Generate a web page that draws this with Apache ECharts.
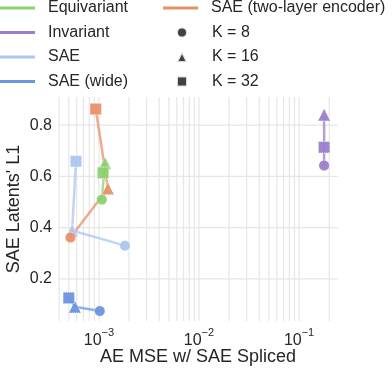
<!DOCTYPE html>
<html><head><meta charset="utf-8">
<script src="https://cdn.jsdelivr.net/npm/echarts@6/dist/echarts.min.js"></script>
<style>html,body{margin:0;padding:0;background:#fff}#c{width:392px;height:368px}</style>
</head><body><div id="c"></div>
<script>
const kLabels = ['K = 8', 'K = 16', 'K = 32'];
const kShapes = ['circle', 'triangle', 'rect'];
const eqX = [1.07e-3, 1.15e-3, 1.10e-3];
const eqY = [0.510, 0.652, 0.614];
const invX = [0.178, 0.178, 0.178];
const invY = [0.643, 0.841, 0.714];
const saeX = [1.82e-3, 5.4e-4, 5.9e-4];
const saeY = [0.330, 0.389, 0.659];
const wideX = [1.02e-3, 5.75e-4, 5.0e-4];
const wideY = [0.075, 0.092, 0.126];
const twoX = [5.2e-4, 1.23e-3, 9.3e-4];
const twoY = [0.362, 0.553, 0.863];
const yTicks = [0.2, 0.4, 0.6, 0.8];
const xGrid = [4e-4,5e-4,6e-4,7e-4,8e-4,9e-4,1e-3,2e-3,3e-3,4e-3,5e-3,6e-3,7e-3,8e-3,9e-3,1e-2,2e-2,3e-2,4e-2,5e-2,6e-2,7e-2,8e-2,9e-2,0.1,0.2];
const xMin = 3.9e-4, xMax = 0.245, yMin = 0.036, yMax = 0.91;

const groups = [
  {name:'Equivariant', x:eqX, y:eqY, color:'#8dd06f'},
  {name:'Invariant', x:invX, y:invY, color:'#9c7ecb'},
  {name:'SAE', x:saeX, y:saeY, color:'#abc6f0'},
  {name:'SAE (wide)', x:wideX, y:wideY, color:'#6b93df'},
  {name:'SAE (two-layer encoder)', x:twoX, y:twoY, color:'#e8906a'}
];
const sizes = {circle:10.5, triangle:12.5, rect:11.5};

const gridData = [];
xGrid.forEach(v=>{gridData.push([v,yMin],[v,yMax],['-','-']);});
yTicks.forEach(v=>{gridData.push([xMin,v],[xMax,v],['-','-']);});

const series = [{
  type:'line', name:'_grid', data:gridData, silent:true, z:1, symbol:'none', connectNulls:false,
  lineStyle:{color:'#e6e6e6', width:1.2}, animation:false
}];
groups.forEach(g=>{
  series.push({
    type:'line', name:g.name, z:3,
    lineStyle:{color:g.color, width:2.5, opacity:0.75},
    itemStyle:{color:g.color},
    data: g.x.map((xv,i)=>({value:[xv, g.y[i]], symbol:kShapes[i], symbolSize:sizes[kShapes[i]],
      itemStyle:{color:g.color, opacity:0.95, borderColor:'rgba(255,255,255,0.85)', borderWidth:1, borderType:'dotted'}}))
  });
});
kLabels.forEach((k,i)=>{
  series.push({type:'scatter', name:k, data:[], symbol:kShapes[i],
    itemStyle:{color:'#111', borderColor:'#fff', borderWidth:1, borderType:'dotted'}});
});

const txt = '#262626';
const chart = echarts.init(document.getElementById('c'), null, {renderer:'canvas'});
chart.setOption({
  animation:false,
  backgroundColor:'#fff',
  grid:{left:58, right:54, top:97, bottom:47, containLabel:false, outerBoundsMode:'none'},
  legend:[
    {orient:'vertical', left:0, top:0, padding:0, itemGap:8.5, itemWidth:35, itemHeight:3,
     textStyle:{fontSize:16, color:txt, lineHeight:16, padding:[0,0,0,8], fontFamily:'Liberation Sans'},
     data:groups.slice(0,4).map(g=>({name:g.name, icon:'rect'}))},
    {orient:'vertical', left:163, top:0, padding:0, itemWidth:35, itemHeight:3,
     textStyle:{fontSize:16, color:txt, lineHeight:16, padding:[0,0,0,8], fontFamily:'Liberation Sans'},
     data:[{name:'SAE (two-layer encoder)', icon:'rect'}]},
    {orient:'vertical', left:176, top:24.5, padding:0, itemGap:8.5, itemWidth:10, itemHeight:10,
     textStyle:{fontSize:16, color:txt, lineHeight:16, padding:[0,0,0,20], fontFamily:'Liberation Sans'},
     data:kLabels.map((k,i)=>({name:k, icon:kShapes[i]}))}
  ],
  xAxis:{type:'log', logBase:10, min:xMin, max:xMax,
    name:'AE MSE w/ SAE Spliced', nameLocation:'middle', nameGap:27, nameMoveOverlap:false,
    nameTextStyle:{fontSize:18, color:txt, fontFamily:'Liberation Sans'},
    axisLine:{show:false}, axisTick:{show:false}, splitLine:{show:false}, minorSplitLine:{show:false},
    axisLabel:{showMinLabel:false, showMaxLabel:false, margin:6, color:txt, fontFamily:'Liberation Sans',
      formatter:v=>{const l=Math.log10(v);const e=Math.round(l);if(Math.abs(l-e)>1e-6)return '';return '{b|10}{s|\u2212'+(-e)+'}';},
      rich:{b:{fontSize:16, color:txt, lineHeight:22, verticalAlign:'bottom', fontFamily:'Liberation Sans'},
            s:{fontSize:11, color:txt, lineHeight:22, verticalAlign:'top', fontFamily:'Liberation Sans'}}}
  },
  yAxis:{type:'value', min:yMin, max:yMax,
    name:"SAE Latents' L1", nameLocation:'middle', nameGap:35, nameMoveOverlap:false,
    nameTextStyle:{fontSize:18, color:txt, fontFamily:'Liberation Sans'},
    axisLine:{show:false}, axisTick:{show:false}, splitLine:{show:false},
    axisLabel:{showMinLabel:false, showMaxLabel:false, margin:6, fontSize:16, color:txt, fontFamily:'Liberation Sans',
      formatter:v=>{for(const t of yTicks){if(Math.abs(v-t)<1e-6)return t.toFixed(1);}return '';}}
  },
  series:series
});
</script></body></html>
